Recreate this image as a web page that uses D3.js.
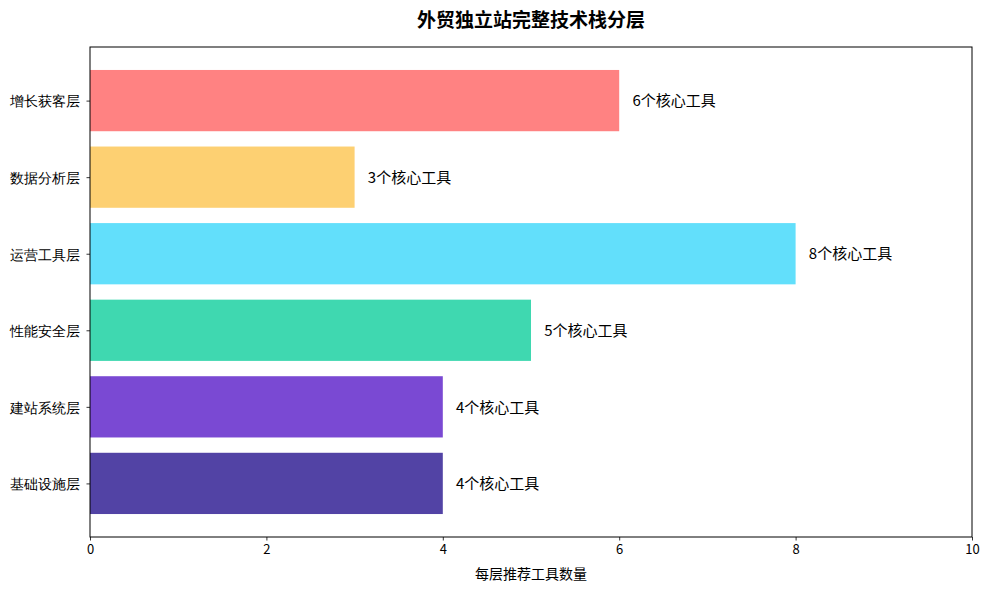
<!DOCTYPE html>
<html><head><meta charset="utf-8">
<script src="https://cdn.jsdelivr.net/npm/d3@7"></script>
<style>body{margin:0;background:#fff;} svg{display:block;font-family:"Noto Sans CJK SC","Noto Sans",sans-serif;}</style>
</head><body>
<script>
const categories = ["基础设施层","建站系统层","性能安全层","运营工具层","数据分析层","增长获客层"];
const values = [4,4,5,8,3,6];
const colors = ["#5243A5","#7A49D3","#3FD8B0","#62DFFB","#FDD072","#FF8282"];
const xTicks = [0,2,4,6,8,10];
const title = "外贸独立站完整技术栈分层";
const xLabel = "每层推荐工具数量";
const labelSuffix = "个核心工具";

const W=990,H=590;
const m={l:90,r:18,t:47,b:53};
const svg=d3.select("body").append("svg").attr("width",W).attr("height",H);
const x=d3.scaleLinear().domain([0,10]).range([m.l,W-m.r]);
const y=d3.scaleLinear().domain([-0.70,5.70]).range([H-m.b,m.t]);
const bh=Math.abs(y(0.4)-y(-0.4));

svg.selectAll("rect.bar").data(values).enter().append("rect")
 .attr("x",x(0)).attr("y",(d,i)=>y(i+0.4)).attr("width",d=>x(d)-x(0)).attr("height",bh)
 .attr("fill",(d,i)=>colors[i]);

svg.selectAll("text.val").data(values).enter().append("text")
 .attr("x",d=>x(d+0.15)).attr("y",(d,i)=>y(i)).attr("dy","0.38em")
 .attr("font-size",15).attr("fill","#000").text(d=>d+labelSuffix);

const xa=svg.append("g").attr("transform",`translate(0,${H-m.b})`)
 .call(d3.axisBottom(x).tickValues(xTicks).tickSize(3.5).tickPadding(4).tickFormat(d3.format("d")));
xa.selectAll("text").attr("font-size",13).attr("fill","#000").style("font-family","'Noto Sans CJK SC'");
const ya=svg.append("g").attr("transform",`translate(${m.l},0)`)
 .call(d3.axisLeft(y).tickValues(d3.range(categories.length)).tickSize(3.5).tickPadding(7).tickFormat(i=>categories[i]));
ya.selectAll("text").attr("font-size",14).attr("fill","#000").attr("dy","0.38em");
[xa,ya].forEach(a=>{a.select(".domain").remove();a.selectAll("line").attr("stroke","#000").attr("stroke-width",0.8);});

svg.append("rect").attr("x",x(0)).attr("y",m.t).attr("width",x(10)-x(0)).attr("height",H-m.b-m.t)
 .attr("fill","none").attr("stroke","#000").attr("stroke-width",1);

svg.append("text").attr("x",(x(0)+x(10))/2).attr("y",27).attr("text-anchor","middle")
 .attr("font-size",19).attr("font-weight","bold").text(title);
svg.append("text").attr("x",(x(0)+x(10))/2).attr("y",579).attr("text-anchor","middle")
 .attr("font-size",14).text(xLabel);
</script>
</body></html>
